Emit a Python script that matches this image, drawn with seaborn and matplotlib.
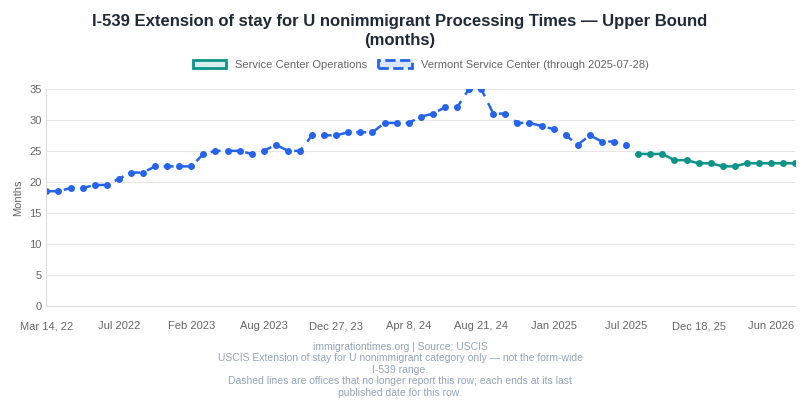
'''
I-539 Extension of stay for U nonimmigrant: upper bound processing times
- Vermont Service Center series (ends 2025-07-28), then Service Center Operations
'''

import pandas as pd
import matplotlib.pyplot as plt
import seaborn as sns
from matplotlib.patches import Patch


vermont = [18.5, 18.5, 19, 19, 19.5, 19.5, 20.5, 21.5, 21.5, 22.5, 22.5, 22.5, 22.5,
           24.5, 25, 25, 25, 24.5, 25, 26, 25, 25, 27.5, 27.5, 27.5, 28, 28, 28,
           29.5, 29.5, 29.5, 30.5, 31, 32, 32, 35, 35, 31, 31, 29.5, 29.5, 29, 28.5,
           27.5, 26, 27.5, 26.5, 26.5, 26]
sco = [24.5, 24.5, 24.5, 23.5, 23.5, 23, 23, 22.5, 22.5, 23, 23, 23, 23, 23]

labels = {0: "Mar 14, 22", 6: "Jul 2022", 12: "Feb 2023", 18: "Aug 2023",
          24: "Dec 27, 23", 30: "Apr 8, 24", 36: "Aug 21, 24", 42: "Jan 2025",
          48: "Jul 2025", 54: "Dec 18, 25", 60: "Jun 2026"}

vsc_df = pd.DataFrame({"idx": range(len(vermont)), "months": vermont})
sco_df = pd.DataFrame({"idx": range(len(vermont), len(vermont) + len(sco)), "months": sco})

BLUE = "#2563eb"
TEAL = "#0d9488"

sns.set_style("white")
plt.rcParams["font.family"] = ["Liberation Sans", "DejaVu Sans"]

plt.figure(figsize=(8, 4), dpi=100)
ax = sns.lineplot(data=vsc_df, x="idx", y="months", color=BLUE, dashes=False,
                  linewidth=1.8, marker="o", markersize=5, markeredgewidth=0)
ax.lines[0].set_dashes([4, 3])  # dashed: office no longer reports
sns.lineplot(data=sco_df, x="idx", y="months", color=TEAL, linewidth=1.8,
             marker="o", markersize=5, markeredgewidth=0, ax=ax)

ax.set_xlim(0, 62)
ax.set_ylim(0, 35)
ax.set_yticks(range(0, 36, 5))
ax.set_xticks(list(labels.keys()))
ax.set_xticklabels(list(labels.values()))
ax.tick_params(colors="#666666", labelsize=8, length=0)
ax.tick_params(axis="x", pad=11)
ax.grid(axis="y", color="#e5e5e5", linewidth=0.8)
ax.set_xlabel("")
ax.set_ylabel("Months", color="#666666", fontsize=8)
for side in ["top", "right"]:
    ax.spines[side].set_visible(False)
ax.spines["left"].set_color("#dddddd")
ax.spines["bottom"].set_color("#dddddd")

handles = [Patch(facecolor="#d7f0ed", edgecolor=TEAL, linewidth=2, label="Service Center Operations"),
           Patch(facecolor="#dbe6fd", edgecolor=BLUE, linewidth=2, linestyle="--",
                 label="Vermont Service Center (through 2025-07-28)")]
ax.legend(handles=handles, loc="lower center", bbox_to_anchor=(0.5, 1.04), ncol=2,
          frameon=False, fontsize=8, labelcolor="#666666", handlelength=3, columnspacing=1)

plt.suptitle("I-539 Extension of stay for U nonimmigrant Processing Times — Upper Bound\n(months)",
             fontsize=12, fontweight="bold", color="#1f2937", y=0.965, linespacing=1.3)
plt.figtext(0.5, 0.005,
            "immigrationtimes.org | Source: USCIS\n"
            "USCIS Extension of stay for U nonimmigrant category only — not the form-wide\n"
            "I-539 range.\n"
            "Dashed lines are offices that no longer report this row; each ends at its last\n"
            "published date for this row.",
            ha="center", va="bottom", fontsize=7.5, color="#94a3b8", linespacing=1.2)

plt.subplots_adjust(left=0.058, right=0.994, top=0.778, bottom=0.235)
plt.savefig("out.png")
plt.close()
